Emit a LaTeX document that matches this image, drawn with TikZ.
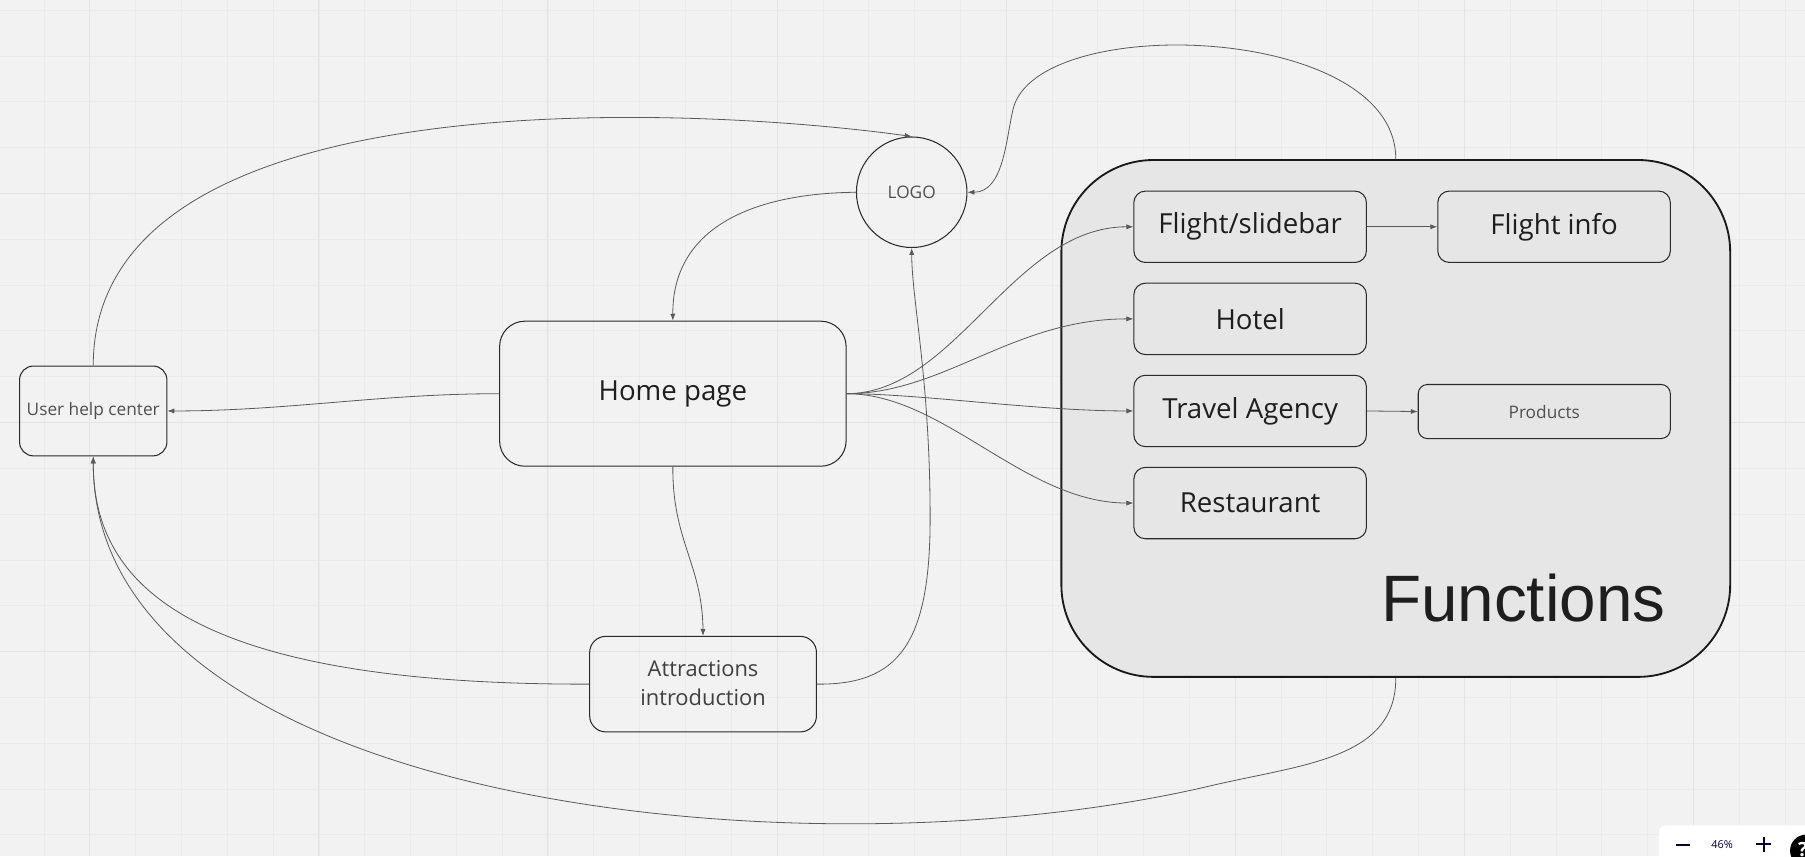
\documentclass[tikz,border=0pt]{standalone}
\usepackage{fontspec}
\setmainfont{Open Sans}
\newfontfamily\arialfont{Liberation Sans}
\usetikzlibrary{arrows.meta}
\definecolor{bg}{HTML}{F2F2F2}
\definecolor{gridminor}{HTML}{EBEBEB}
\definecolor{gridmajor}{HTML}{E4E4E4}
\definecolor{boxfill}{HTML}{E6E6E6}
\definecolor{edgec}{HTML}{2A2A2A}
\definecolor{linec}{HTML}{5A5A5A}
\definecolor{txt}{HTML}{1E1E1E}
\definecolor{txtlight}{HTML}{505050}
\definecolor{navy}{HTML}{050038}
\begin{document}
\begin{tikzpicture}[x=1pt,y=-1pt,
  box/.style={draw=edgec, line width=0.9pt, rounded corners=#1, inner sep=0pt, align=center, text=txt},
  box/.default=10pt,
  big/.style={font=\fontsize{24}{28}\selectfont},
  small/.style={font=\fontsize{15}{18}\selectfont, text=txtlight},
  conn/.style={draw=linec, line width=0.7pt, -{Latex[length=6pt,width=4.5pt]}}
]
\clip (0,0) rectangle (1568,744);
\fill[bg] (0,0) rectangle (1568,744);
% grid
\foreach \i in {0,...,40} \draw[gridminor, line width=0.6pt] ({-1.6+39.8*\i},0) -- ++(0,744);
\foreach \j in {0,...,18} \draw[gridminor, line width=0.6pt] (0,{8.8+39.8*\j}) -- ++(1568,0);
\foreach \i in {0,...,7} \draw[gridmajor, line width=0.9pt] ({78+199*\i},0) -- ++(0,744);
\foreach \j in {0,...,2} \draw[gridmajor, line width=0.9pt] (0,{168+199*\j}) -- ++(1568,0);

% container
\node[draw=black!90, line width=1.6pt, fill=boxfill, rounded corners=80pt,
      minimum width=581pt, minimum height=449pt, inner sep=0pt] (func) at (1212.5,363.5) {};
\node[anchor=base west, inner sep=0pt, text=txt, font=\arialfont\fontsize{57}{60}\selectfont] (functxt) at (1199.5,540) {Functions};

% nodes
\node[box=12pt, small, minimum width=128pt, minimum height=78pt] (uhc) at (81,357) {User help center};
\node[box=22pt, big, minimum width=301pt, minimum height=126pt] (home) at (584.5,342) {Home page};
\node[circle, draw=edgec, line width=0.9pt, minimum size=96pt, inner sep=0pt, small] (logo) at (792,167) {LOGO};
\node[box=14pt, minimum width=197pt, minimum height=83pt, text=txt!85,
      font=\fontsize{19}{25}\selectfont] (attr) at (610.75,594.3) {Attractions\\introduction\rule{0pt}{0pt}\vspace{2pt}};

\node[box, big, fill=boxfill, minimum width=202pt, minimum height=62pt] (flight) at (1086,197) {Flight/slidebar};
\node[box, big, fill=boxfill, minimum width=202pt, minimum height=62pt] (finfo) at (1350,197) {Flight info};
\node[box, big, fill=boxfill, minimum width=202pt, minimum height=62pt] (hotel) at (1086,277) {Hotel};
\node[box, big, fill=boxfill, minimum width=202pt, minimum height=62pt] (travel) at (1086,357) {Travel Agency};
\node[box=8pt, small, fill=boxfill, minimum width=219pt, minimum height=47pt] (products) at (1341.5,357.5) {Products};
\node[box, big, fill=boxfill, minimum width=202pt, minimum height=62pt] (rest) at (1086,437) {Restaurant};

% connectors
\draw[conn] (uhc.north) .. controls (81,66) and (600,92) .. (logo.north);
\draw[conn] (logo.west) .. controls (650,168) and (584,200) .. (home.north);
\draw[conn] (func.north) .. controls (1213,20) and (900,10) .. (880,95)
            .. controls (874,120) and (872,167) .. (logo.east);
\draw[conn] (home.east) .. controls (830,342) and (880,197) .. (flight.west);
\draw[conn] (home.east) .. controls (820,342) and (880,277) .. (hotel.west);
\draw[conn] (home.east) .. controls (800,342) and (900,357) .. (travel.west);
\draw[conn] (home.east) .. controls (820,342) and (890,437) .. (rest.west);
\draw[conn] (home.west) .. controls (330,342) and (250,357) .. (uhc.east);
\draw[conn] (home.south) .. controls (584,470) and (610,490) .. (attr.north);
\draw[conn] (attr.west) .. controls (150,595) and (81,500) .. (uhc.south);
\draw[conn] (attr.east) .. controls (780,595) and (808,560) .. (808,450)
            .. controls (808,330) and (792,260) .. (logo.south);
\draw[conn] (func.south) .. controls (1213,660) and (1130,664) .. (1050,683)
            .. controls (700,765) and (81,700) .. (uhc.south);
\draw[conn] (flight.east) -- (finfo.west);
\draw[conn] (travel.east) -- (products.west);

% zoom widget
\fill[white, rounded corners=6pt] (1441,717) rectangle (1600,780);
\draw[navy, line width=1.8pt] (1456,734) -- (1468,734);
\node[text=navy, font=\fontsize{9.5}{11}\selectfont, inner sep=0pt] (zoomlbl) at (1496,734) {46\%};
\draw[navy, line width=1.8pt] (1525.5,733.5) -- (1538.5,733.5) (1532,727) -- (1532,740);
\fill[black] (1569,739) circle (14);
\node[text=white, font=\bfseries\fontsize{17}{18}\selectfont, inner sep=0pt] (helpq) at (1566,738) {?};
\end{tikzpicture}
\end{document}
